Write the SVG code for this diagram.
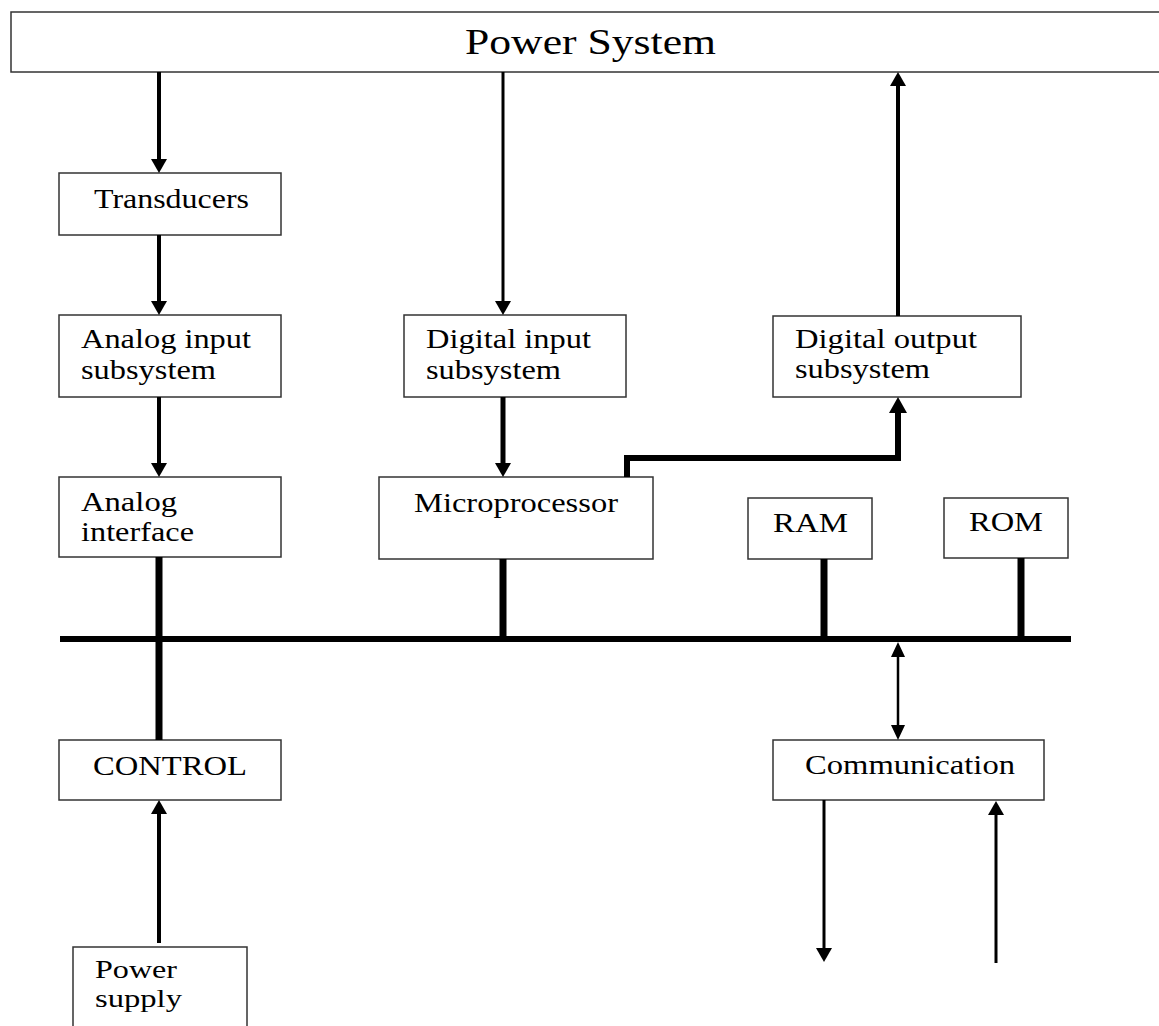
<svg xmlns="http://www.w3.org/2000/svg" width="1159" height="1026" viewBox="0 0 1159 1026">
<style>
.box{fill:#fff;stroke:#333;stroke-width:1.5}
text{font-family:"Liberation Serif","Times New Roman",serif;font-size:27px;fill:#000}
.big{font-size:35px}
.sm{font-size:25px}
.ln{fill:none;stroke:#000;stroke-linecap:butt;stroke-linejoin:miter}
</style>
<defs>
<marker id="ah" markerUnits="userSpaceOnUse" markerWidth="16" markerHeight="16" refX="4" refY="8" orient="auto-start-reverse" viewBox="0 0 14 16"><path d="M0,0 L14,8 L0,16 z" fill="#000"/></marker>
<marker id="ahb" markerUnits="userSpaceOnUse" markerWidth="16" markerHeight="18" refX="4" refY="9" orient="auto-start-reverse" viewBox="0 0 16 18"><path d="M0,0 L16,9 L0,18 z" fill="#000"/></marker>
<marker id="ahs" markerUnits="userSpaceOnUse" markerWidth="15" markerHeight="14" refX="5" refY="7" orient="auto-start-reverse" viewBox="0 0 15 14"><path d="M0,0 L15,7 L0,14 z" fill="#000"/></marker>
</defs>
<rect width="1159" height="1026" fill="#fff"/>
<g id="power-system"><rect class="box" x="11" y="12" width="1160" height="60"/><text class="big" x="465" y="54" textLength="251" lengthAdjust="spacingAndGlyphs">Power System</text></g>
<g id="transducers"><rect class="box" x="59" y="173" width="222" height="62"/><text x="94" y="208" textLength="155" lengthAdjust="spacingAndGlyphs">Transducers</text></g>
<g id="analog-input"><rect class="box" x="59" y="315" width="222" height="82"/><text x="81" y="348" textLength="170" lengthAdjust="spacingAndGlyphs">Analog input</text><text x="81" y="379" textLength="135" lengthAdjust="spacingAndGlyphs">subsystem</text></g>
<g id="analog-interface"><rect class="box" x="59" y="477" width="222" height="80"/><text x="81" y="511" textLength="96" lengthAdjust="spacingAndGlyphs">Analog</text><text x="81" y="541" textLength="113" lengthAdjust="spacingAndGlyphs">interface</text></g>
<g id="digital-input"><rect class="box" x="404" y="315" width="222" height="82"/><text x="426" y="348" textLength="165" lengthAdjust="spacingAndGlyphs">Digital input</text><text x="426" y="379" textLength="135" lengthAdjust="spacingAndGlyphs">subsystem</text></g>
<g id="digital-output"><rect class="box" x="773" y="316" width="248" height="81"/><text x="795" y="348" textLength="182" lengthAdjust="spacingAndGlyphs">Digital output</text><text x="795" y="378" textLength="135" lengthAdjust="spacingAndGlyphs">subsystem</text></g>
<g id="microprocessor"><rect class="box" x="379" y="477" width="274" height="82"/><text x="414" y="512" textLength="204" lengthAdjust="spacingAndGlyphs">Microprocessor</text></g>
<g id="ram"><rect class="box" x="748" y="498" width="124" height="61"/><text x="773" y="532" textLength="75" lengthAdjust="spacingAndGlyphs">RAM</text></g>
<g id="rom"><rect class="box" x="944" y="498" width="124" height="60"/><text x="969" y="531" textLength="74" lengthAdjust="spacingAndGlyphs">ROM</text></g>
<g id="control"><rect class="box" x="59" y="740" width="222" height="60"/><text x="93" y="775" textLength="154" lengthAdjust="spacingAndGlyphs">CONTROL</text></g>
<g id="communication"><rect class="box" x="773" y="740" width="271" height="60"/><text x="805" y="774" textLength="210" lengthAdjust="spacingAndGlyphs">Communication</text></g>
<g id="power-supply"><rect class="box" x="73" y="947" width="174" height="90"/><text class="sm" x="95" y="978" textLength="82" lengthAdjust="spacingAndGlyphs">Power</text><text class="sm" x="95" y="1007" textLength="87" lengthAdjust="spacingAndGlyphs">supply</text></g>
<g id="connectors">
<line class="ln" x1="159" y1="72" x2="159" y2="163" stroke-width="4" marker-end="url(#ah)"/>
<line class="ln" x1="159" y1="235" x2="159" y2="305" stroke-width="4" marker-end="url(#ah)"/>
<line class="ln" x1="159" y1="397" x2="159" y2="467" stroke-width="4" marker-end="url(#ah)"/>
<line class="ln" x1="159" y1="557" x2="159" y2="740" stroke-width="7"/>
<line class="ln" x1="159" y1="943" x2="159" y2="810" stroke-width="4" marker-end="url(#ah)"/>
<line class="ln" x1="503" y1="72" x2="503" y2="305" stroke-width="3" marker-end="url(#ah)"/>
<line class="ln" x1="503" y1="397" x2="503" y2="467" stroke-width="5" marker-end="url(#ah)"/>
<line class="ln" x1="503" y1="559" x2="503" y2="639" stroke-width="7"/>
<path class="ln" d="M627,477 V458 H898 V409" stroke-width="6" marker-end="url(#ahb)"/>
<line class="ln" x1="898" y1="316" x2="898" y2="82" stroke-width="4" marker-end="url(#ah)"/>
<line class="ln" x1="824" y1="559" x2="824" y2="639" stroke-width="7"/>
<line class="ln" x1="1021" y1="558" x2="1021" y2="639" stroke-width="7"/>
<line class="ln" x1="60" y1="639" x2="1071" y2="639" stroke-width="6"/>
<line class="ln" x1="898" y1="652" x2="898" y2="730" stroke-width="2.5" marker-start="url(#ahs)" marker-end="url(#ahs)"/>
<line class="ln" x1="824" y1="800" x2="824" y2="952" stroke-width="3" marker-end="url(#ah)"/>
<line class="ln" x1="996" y1="963" x2="996" y2="811" stroke-width="3" marker-end="url(#ah)"/>
</g>
</svg>
